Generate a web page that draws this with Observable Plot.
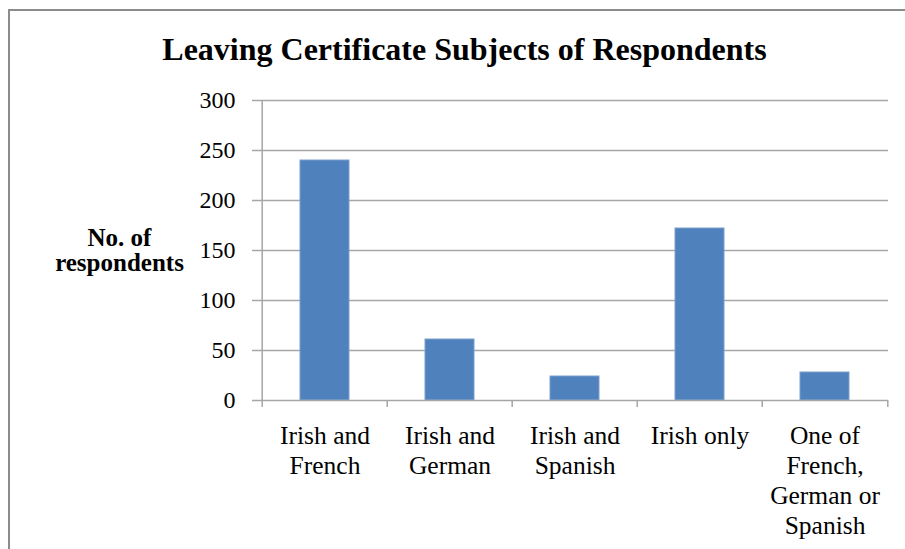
<!DOCTYPE html>
<html><head><meta charset="utf-8">
<script src="https://cdn.jsdelivr.net/npm/d3@7"></script>
<script src="https://cdn.jsdelivr.net/npm/@observablehq/plot@0.6"></script>
<style>
html,body{margin:0;padding:0;background:#fff;width:905px;height:549px;overflow:hidden;}
#frame{position:absolute;left:8px;top:9px;width:1000px;height:700px;border-left:2px solid #8c8c8c;border-top:2px solid #8c8c8c;z-index:5;pointer-events:none;}
#title{position:absolute;left:0;top:33px;width:929px;text-align:center;font:bold 32px "Liberation Serif","Times New Roman",serif;line-height:32px;color:#000;white-space:nowrap;}
#chart{position:absolute;left:0;top:80px;}
#chart svg, #chart svg text, #chart svg tspan{font-family:"Liberation Serif","Times New Roman",serif !important;}
</style></head><body>
<div id="title"></div>
<div id="chart"></div>
<div id="frame"></div>
<script>
const title = "Leaving Certificate Subjects of Respondents";
const categories = ["Irish and French", "Irish and German", "Irish and Spanish", "Irish only", "One of French, German or Spanish"];
const tickLabels = ["Irish and\nFrench", "Irish and\nGerman", "Irish and\nSpanish", "Irish only", "One of\nFrench,\nGerman or\nSpanish"];
const counts = [240, 61, 24, 172, 28];
const yTicks = [0, 50, 100, 150, 200, 250, 300];
const yLabel = "No. of\nrespondents";

document.getElementById("title").textContent = title;

const serif = '"Liberation Serif", "Times New Roman", serif';
const W = 905, H = 469, mL = 260, mR = 17, mT = 20, mB = 149;
const step = (W - mL - mR) / categories.length;
const data = categories.map((c, i) => ({category: c, count: counts[i]}));
const labelOf = new Map(categories.map((c, i) => [c, tickLabels[i]]));
const grid = "#a6a6a6";

const plot = Plot.plot({
  width: W, height: H,
  marginLeft: mL, marginRight: mR, marginTop: mT, marginBottom: mB,
  style: {fontFamily: serif, background: "transparent", color: "#000", overflow: "visible"},
  x: {domain: categories, padding: 0, axis: null, label: null},
  y: {domain: [0, 300], axis: null, label: null},
  marks: [
    Plot.ruleY(yTicks.filter(t => t > 0), {y: d => d, stroke: grid, strokeWidth: 1.5}),
    Plot.barY(data, {x: "category", y: "count", fill: "#4f81bd", stroke: "#7a9fcf", strokeWidth: 1, insetLeft: 38, insetRight: 38}),
    Plot.ruleY([0], {y: d => d, stroke: grid, strokeWidth: 1.5}),
    Plot.ruleX([categories[0]], {x: d => d, y1: 0, y2: 300, dx: -step / 2, stroke: grid, strokeWidth: 1.5}),
    Plot.ruleX(categories, {x: d => d, y1: 0, y2: 0, dx: -step / 2, insetBottom: -7, stroke: grid, strokeWidth: 1.5}),
    Plot.ruleX([categories[categories.length - 1]], {x: d => d, y1: 0, y2: 0, dx: step / 2, insetBottom: -7, stroke: grid, strokeWidth: 1.5}),
    Plot.axisY({ticks: yTicks, label: null, tickSize: 8, tickPadding: 17, fontSize: 24, fontFamily: serif, stroke: grid, strokeWidth: 1.5, fill: "#000"}),
    Plot.axisX({label: null, tickSize: 0, tickPadding: 22, tickFormat: c => labelOf.get(c), fontSize: 25.5, fontFamily: serif, lineHeight: 1.18, fill: "#000"}),
    Plot.text([yLabel], {frameAnchor: "left", dx: -141, dy: 0, fontSize: 25, fontFamily: serif, fontWeight: "bold", lineHeight: 1.02, textAnchor: "middle", fill: "#000"})
  ]
});
document.getElementById("chart").appendChild(plot);
</script>
</body></html>
